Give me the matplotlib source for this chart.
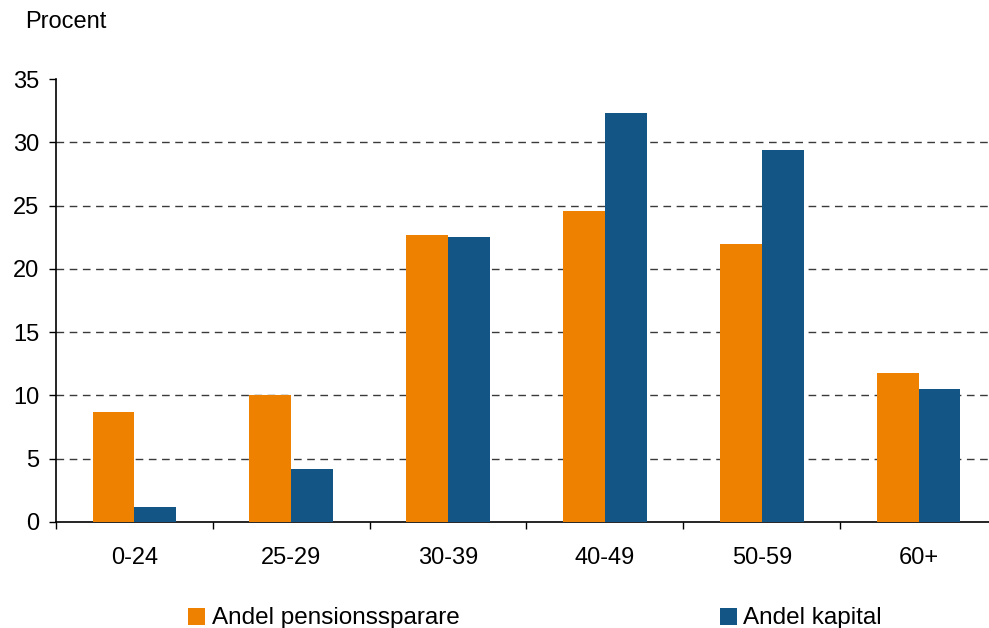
import matplotlib
matplotlib.use("Agg")
import matplotlib.pyplot as plt
import numpy as np
from matplotlib.patches import Rectangle

plt.rcParams['font.family'] = ['Liberation Sans', 'DejaVu Sans']

categories = ["0-24", "25-29", "30-39", "40-49", "50-59", "60+"]
andel_pensionssparare = [8.7, 10.0, 22.7, 24.6, 22.0, 11.8]
andel_kapital = [1.2, 4.2, 22.5, 32.3, 29.4, 10.5]
yticks = [0, 5, 10, 15, 20, 25, 30, 35]
series_labels = ["Andel pensionssparare", "Andel kapital"]

orange = '#EE8200'
blue = '#135685'

W, H = 989, 628
fig = plt.figure(figsize=(W/100, H/100), dpi=100)
ax = fig.add_axes([56/W, 106/H, 941/W, 443/H])

x = np.arange(len(categories))
w = 0.267
ax.bar(x - w/2, andel_pensionssparare, width=w, color=orange, zorder=3)
ax.bar(x + w/2, andel_kapital, width=w, color=blue, zorder=3)

ax.set_xlim(-0.5, len(categories) - 0.5)
ax.set_ylim(0, 35)
ax.set_yticks(yticks)
ax.set_yticklabels([str(v) for v in yticks], fontsize=17)
for v in yticks[1:-1]:
    ax.axhline(v, color='#3a3a3a', linestyle=(0, (5.5, 4)), linewidth=1.0, zorder=1)

ax.set_xticks(np.arange(len(categories) + 1) - 0.5)
ax.set_xticklabels([])
ax.set_xticks(x, minor=True)
ax.set_xticklabels(categories, minor=True, fontsize=17)
ax.tick_params(axis='x', which='major', direction='out', length=5, width=1, color='black')
ax.tick_params(axis='x', which='minor', length=0, pad=18)
ax.tick_params(axis='y', direction='out', length=5, width=1, pad=7)

for s in ['top', 'right']:
    ax.spines[s].set_visible(False)
for s in ['left', 'bottom']:
    ax.spines[s].set_linewidth(1.2)
    ax.spines[s].set_color('black')

fig.text(25/W, 1 - 22/H, "Procent", fontsize=17, va='center', ha='left')

# legend (manual placement)
leg_items = [(188, 212, orange, series_labels[0]), (720, 743, blue, series_labels[1])]
for sx, tx, col, lab in leg_items:
    fig.patches.append(Rectangle((sx/W, 1 - 625/H), 17/W, 17/H, transform=fig.transFigure,
                                 facecolor=col, edgecolor='none'))
    fig.text(tx/W, 1 - 624/H, lab, fontsize=17.5, va='baseline', ha='left')

fig.savefig("out.png", dpi=100)
